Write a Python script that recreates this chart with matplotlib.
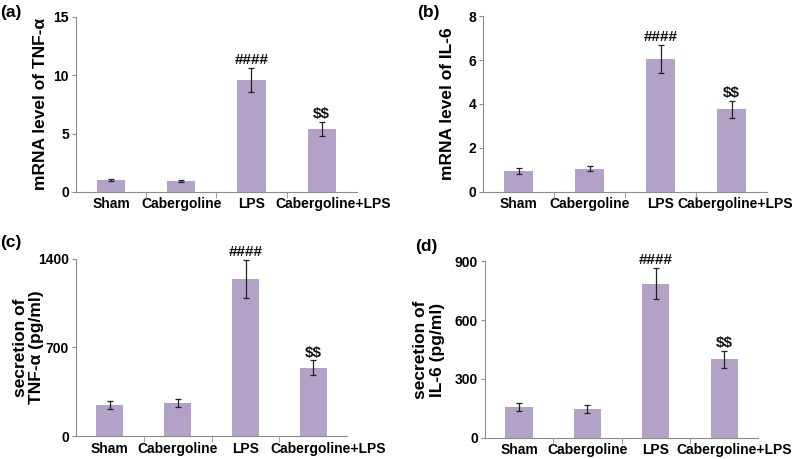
import matplotlib
matplotlib.use('Agg')
import matplotlib.pyplot as plt
import matplotlib.transforms as mtransforms
import numpy as np

plt.rcParams['font.family'] = ['Liberation Sans', 'DejaVu Sans']
plt.rcParams['font.weight'] = 'bold'

# ── data ────────────────────────────────────────────────────────────────── #
groups = ['Sham', 'Cabergoline', 'LPS', 'Cabergoline+LPS']

tnf_mrna = [1.0, 0.95, 9.6, 5.4]
tnf_mrna_err = [0.1, 0.1, 1.05, 0.6]

il6_mrna = [0.95, 1.05, 6.05, 3.75]
il6_mrna_err = [0.12, 0.12, 0.63, 0.4]

tnf_sec = [245, 260, 1242, 540]
tnf_sec_err = [30, 33, 150, 57]

il6_sec = [156, 149, 785, 400]
il6_sec_err = [20, 20, 80, 42]

marks = ['', '', '####', r'\$\$']

panels = [
    ('(a)', 'mRNA level of TNF-α', tnf_mrna, tnf_mrna_err, [0, 5, 10, 15]),
    ('(b)', 'mRNA level of IL-6', il6_mrna, il6_mrna_err, [0, 2, 4, 6, 8]),
    ('(c)', 'secretion of\nTNF-α (pg/ml)', tnf_sec, tnf_sec_err, [0, 700, 1400]),
    ('(d)', 'secretion of\nIL-6 (pg/ml)', il6_sec, il6_sec_err, [0, 300, 600, 900]),
]

# ── layout ──────────────────────────────────────────────────────────────── #
# axes boxes [left, bottom, width, height] in figure fraction
boxes = [
    [0.095, 0.582, 0.351, 0.381],
    [0.604, 0.582, 0.355, 0.383],
    [0.095, 0.050, 0.339, 0.386],
    [0.606, 0.046, 0.342, 0.385],
]
tag_pos = [(0.0, 1 - 13 / 459), (417 / 800, 1 - 12 / 459),
           (0.0, 1 - 242 / 459), (415 / 800, 1 - 246 / 459)]
ylabel_x = [-0.10, -0.099, -0.118, -0.147]
last_label_shift = [11, 3, 15, 10]   # px, Excel nudges the long label right

bar_color = '#B3A2C7'
axis_color = '#8C8C8C'

fig = plt.figure(figsize=(8, 4.59), dpi=100)

for i, ((tag, ylabel, vals, errs, yticks), box) in enumerate(zip(panels, boxes)):
    ax = fig.add_axes(box)
    x = np.arange(len(groups))
    ax.bar(x, vals, width=0.4, color=bar_color, zorder=2)
    ax.errorbar(x, vals, yerr=errs, fmt='none', ecolor='#222222',
                elinewidth=0.9, capsize=2, capthick=0.9, zorder=3)

    ymax = yticks[-1]
    for xi, v, e, m in zip(x, vals, errs, marks):
        if m:
            ax.text(xi, v + e + ymax * 0.004, m, ha='center', va='bottom',
                    fontsize=11, fontweight='bold', color='#111111')

    ax.set_xlim(-0.5, 3.5)
    ax.set_ylim(0, ymax)
    ax.set_yticks(yticks)
    ax.set_xticks(x)
    ax.set_xticklabels(groups, fontsize=10, fontweight='bold')
    ax.set_xticks([0.5, 1.5, 2.5], minor=True)
    ax.tick_params(axis='x', which='major', length=0, pad=4)
    ax.tick_params(axis='x', which='minor', length=4, color=axis_color,
                   direction='out')
    ax.tick_params(axis='y', labelsize=10, length=3, pad=2,
                   color=axis_color, direction='out')
    for lbl in ax.get_yticklabels():
        lbl.set_fontweight('bold')

    shift = mtransforms.ScaledTranslation(last_label_shift[i] / 100, 0,
                                          fig.dpi_scale_trans)
    last = ax.get_xticklabels()[-1]
    last.set_transform(last.get_transform() + shift)

    ax.spines['top'].set_visible(False)
    ax.spines['right'].set_visible(False)
    ax.spines['left'].set_color(axis_color)
    ax.spines['bottom'].set_color(axis_color)

    ax.set_ylabel(ylabel, fontsize=12.5, fontweight='bold', linespacing=1.1)
    ax.yaxis.set_label_coords(ylabel_x[i], 0.5)

    fig.text(tag_pos[i][0], tag_pos[i][1], tag,
             fontsize=12.5, fontweight='bold', va='center', ha='left')

fig.savefig('out.png', dpi=100)
